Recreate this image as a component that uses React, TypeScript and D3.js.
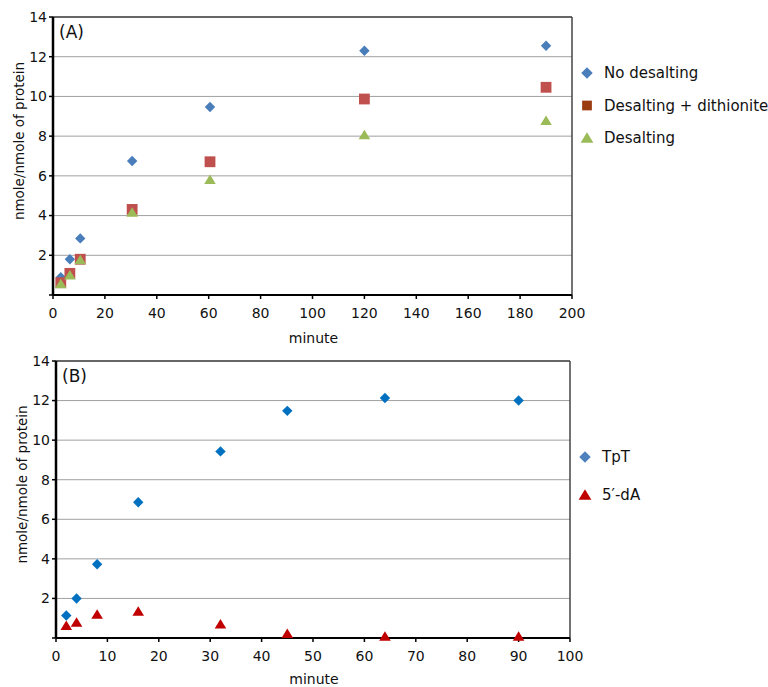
import React from "react";
import * as d3 from "d3";

// Panel A data
const minutesA = [3, 6.5, 10.5, 30.5, 60.5, 120, 190];
const noDesalting = [0.9, 1.8, 2.85, 6.75, 9.47, 12.3, 12.55];
const desaltingDithionite = [0.62, 1.09, 1.8, 4.31, 6.71, 9.87, 10.46];
const desalting = [0.55, 1.0, 1.76, 4.16, 5.8, 8.06, 8.78];
const xTicksA = [0, 20, 40, 60, 80, 100, 120, 140, 160, 180, 200];

// Panel B data
const minutesB = [2, 4, 8, 16, 32, 45, 64, 90];
const tpt = [1.14, 2.0, 3.73, 6.86, 9.43, 11.48, 12.13, 12.0];
const dA = [0.62, 0.79, 1.19, 1.34, 0.69, 0.22, 0.08, 0.08];
const xTicksB = [0, 10, 20, 30, 40, 50, 60, 70, 80, 90, 100];

const yTicks = [0, 2, 4, 6, 8, 10, 12, 14];
const yLabels = ["", "2", "4", "6", "8", "10", "12", "14"];

const FONT = "'DejaVu Sans', sans-serif";

type Shape = "diamond" | "square" | "triangle";

function Marker({ shape, x, y, fill, size }: { shape: Shape; x: number; y: number; fill: string; size?: number }) {
  const s = size ?? 1;
  if (shape === "diamond") {
    const r = 5.2 * s;
    return <path d={`M${x},${y - r}L${x + r},${y}L${x},${y + r}L${x - r},${y}Z`} fill={fill} />;
  }
  if (shape === "square") {
    const h = 5.4 * s;
    return <rect x={x - h} y={y - h} width={2 * h} height={2 * h} fill={fill} />;
  }
  const w = 5.8 * s;
  const h = 9.5 * s;
  return <path d={`M${x},${y - h * 0.55}L${x + w},${y + h * 0.45}L${x - w},${y + h * 0.45}Z`} fill={fill} />;
}

interface Series {
  name: string;
  xs: number[];
  ys: number[];
  shape: Shape;
  color: string;
  legendColor: string;
}

function Panel({
  left, right, top, bottom, xMax, xTicks, series, label, legendX, legendY, legendGap, titleY,
}: {
  left: number; right: number; top: number; bottom: number; xMax: number; xTicks: number[];
  series: Series[]; label: string; legendX: number; legendY: number; legendGap: number; titleY: number;
}) {
  const x = d3.scaleLinear().domain([0, xMax]).range([left, right]);
  const y = d3.scaleLinear().domain([0, 14]).range([bottom, top]);
  return (
    <g>
      {yTicks.filter((t) => t > 0 && t < 14).map((t) => (
        <line key={"g" + t} x1={left} x2={right} y1={y(t)} y2={y(t)} stroke="#a0a0a0" strokeWidth={1} />
      ))}
      <line x1={left} x2={right} y1={top} y2={top} stroke="#333" strokeWidth={1.5} />
      <line x1={right} x2={right} y1={top} y2={bottom} stroke="#444" strokeWidth={1.5} />
      <line x1={left} x2={right} y1={bottom} y2={bottom} stroke="#000" strokeWidth={2.2} />
      <line x1={left} x2={left} y1={top} y2={bottom} stroke="#000" strokeWidth={2.5} />
      {yTicks.map((t) => (
        <line key={"yt" + t} x1={left - 4} x2={left} y1={y(t)} y2={y(t)} stroke="#000" strokeWidth={1.5} />
      ))}
      {xTicks.map((t) => (
        <line key={"xt" + t} x1={x(t)} x2={x(t)} y1={bottom} y2={bottom + 4} stroke="#000" strokeWidth={1.5} />
      ))}
      {yTicks.map((t, i) => (
        <text key={"yl" + t} x={left - 6} y={y(t)} dy="0.35em" textAnchor="end" fontSize={14} fontFamily={FONT} fill="#111">
          {yLabels[i]}
        </text>
      ))}
      {xTicks.map((t) => (
        <text key={"xl" + t} x={x(t)} y={bottom + 23} textAnchor="middle" fontSize={14} fontFamily={FONT} fill="#111">
          {t}
        </text>
      ))}
      <text x={x(xMax / 2) + 1} y={titleY} textAnchor="middle" fontSize={14} fontFamily={FONT} fill="#111">minute</text>
      <text
        transform={`translate(${left - 29},${(top + bottom) / 2 - 15}) rotate(-90)`}
        textAnchor="middle" fontSize={13.5} fontFamily={FONT} fill="#111"
      >
        nmole/nmole of protein
      </text>
      <text x={left + 6} y={top + 21} fontSize={17} fontFamily={FONT} fill="#111">{label}</text>
      {series.map((s) =>
        s.xs.map((xv, i) => (
          <Marker key={s.name + i} shape={s.shape} x={x(xv)} y={y(s.ys[i])} fill={s.color} />
        ))
      )}
      {series.map((s, i) => (
        <g key={"lg" + s.name}>
          <Marker shape={s.shape} x={legendX} y={legendY + i * legendGap} fill={s.legendColor} size={s.shape === "square" ? 0.9 : 1.1} />
          <text x={legendX + 17} y={legendY + i * legendGap} dy="0.35em" fontSize={15} fontFamily={FONT} fill="#111">
            {s.name}
          </text>
        </g>
      ))}
    </g>
  );
}

export default function App() {
  const seriesA: Series[] = [
    { name: "No desalting", xs: minutesA, ys: noDesalting, shape: "diamond", color: "#4a7ebb", legendColor: "#4a7ebb" },
    { name: "Desalting + dithionite", xs: minutesA, ys: desaltingDithionite, shape: "square", color: "#c0504d", legendColor: "#9a3b10" },
    { name: "Desalting", xs: minutesA, ys: desalting, shape: "triangle", color: "#9bbb59", legendColor: "#9bbb59" },
  ];
  const seriesB: Series[] = [
    { name: "TpT", xs: minutesB, ys: tpt, shape: "diamond", color: "#0070c0", legendColor: "#4f81bd" },
    { name: "5\u2032-dA", xs: minutesB, ys: dA, shape: "triangle", color: "#c00000", legendColor: "#c00000" },
  ];
  return (
    <svg width={768} height={687} style={{ position: "absolute", left: 0, top: 0, background: "#fff" }}>
      <rect width={768} height={687} fill="#fff" />
      <Panel left={53} right={572} top={17} bottom={295} xMax={200} xTicks={xTicksA} series={seriesA}
        label="(A)" legendX={587} legendY={73} legendGap={32.5} titleY={343} />
      <Panel left={56} right={570} top={361} bottom={638} xMax={100} xTicks={xTicksB} series={seriesB}
        label="(B)" legendX={585} legendY={457} legendGap={38} titleY={684} />
    </svg>
  );
}
